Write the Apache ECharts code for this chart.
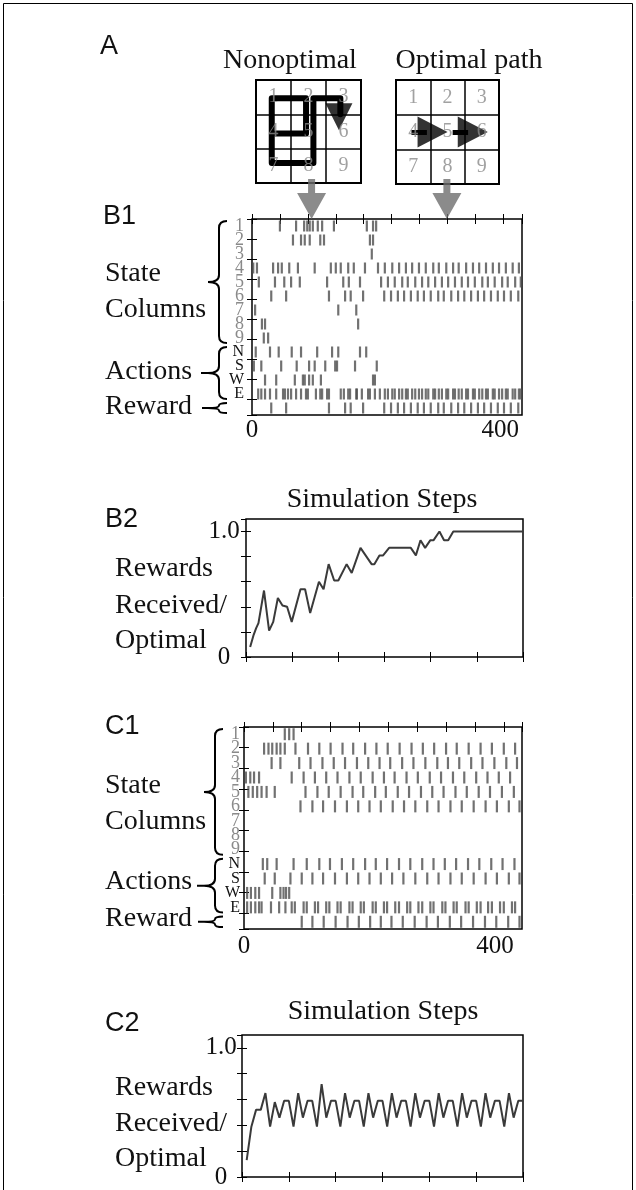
<!DOCTYPE html>
<html>
<head>
<meta charset="utf-8">
<script src="https://cdn.jsdelivr.net/npm/echarts@6/dist/echarts.min.js"></script>
<style>
  html, body { margin: 0; padding: 0; background: #fff; }
  #chart { width: 636px; height: 1190px; }
</style>
</head>
<body>
<div id="chart"></div>
<script>
// ---- data ----
const ROW_LABELS = ["1", "2", "3", "4", "5", "6", "7", "8", "9", "N", "S", "W", "E", ""];
const GRID_NUMBERS = ["1", "2", "3", "4", "5", "6", "7", "8", "9"];

// nonoptimal route through the 3x3 maze (cell units)
const NONOPT_PATH = [[0.57, 1.56], [1.43, 1.56], [1.43, 0.53], [0.45, 0.53], [0.45, 2.42], [1.64, 2.42], [1.64, 0.53], [2.41, 0.53], [2.41, 1.0]];
const NONOPT_HEAD = [[2.37, 1.07]];
// optimal route arrows 4 -> 5 -> 6
const OPT_SHAFTS = [[[0.45, 1.5], [0.9, 1.5]], [[1.65, 1.5], [2.1, 1.5]]];
const OPT_HEADS = [[1.065, 1.5], [2.235, 1.5]];

// grey arrows into B1 (simulation step)
const B1_ARROW_STEPS = [96, 314];

// B1 raster (simulation step of each spike)
const B1_S1 = [45, 71, 84, 89, 93, 98, 106, 113, 132, 185, 195, 200];
const B1_S2 = [66, 79, 85, 93, 110, 116, 190, 195];
const B1_S3 = [193];
const B1_S4 = [2, 8, 34, 42, 48, 60, 74, 101, 127, 135, 143, 155, 164, 182, 203, 214, 226, 237, 248, 258, 269, 280, 292, 301, 313, 324, 333, 345, 356, 366, 377, 388, 398, 409, 420, 430];
const B1_S5 = [11, 37, 52, 63, 77, 121, 147, 156, 174, 208, 219, 230, 242, 251, 263, 274, 284, 295, 306, 316, 327, 338, 348, 359, 371, 380, 391, 403, 412, 424, 433];
const B1_S6 = [31, 55, 124, 150, 159, 179, 213, 224, 235, 245, 256, 267, 277, 288, 300, 309, 321, 332, 342, 353, 364, 374, 385, 396, 406, 417, 429];
const B1_S7 = [5, 139, 168];
const B1_S8 = [16, 21, 171];
const B1_S9 = [19, 26];
const B1_N = [6, 29, 43, 64, 79, 105, 129, 139, 174, 184];
const B1_S = [3, 15, 47, 72, 92, 101, 118, 134, 137, 166, 201];
const B1_W = [21, 39, 69, 82, 85, 92, 98, 111, 195, 198];
const B1_E = [10, 15, 21, 29, 39, 50, 53, 58, 63, 71, 79, 87, 90, 103, 110, 113, 121, 124, 143, 148, 155, 158, 168, 169, 177, 187, 190, 198, 206,
  214, 219, 226, 230, 237, 242, 248, 251, 258, 263, 269, 274, 280, 284, 292, 295, 301, 306, 313, 316, 324, 327, 333, 338, 345, 348, 356, 359,
  366, 371, 377, 380, 388, 391, 398, 403, 409, 412, 420, 424, 430, 433];
const B1_REWARD = [31, 55, 124, 150, 159, 179, 213, 224, 235, 245, 256, 267, 277, 288, 300, 309, 321, 332, 342, 353, 364, 374, 385, 396, 406, 417, 429];

// B2 rewards received / optimal
const B2_STEPS = [0.9, 1.6, 2.2, 2.7, 3.9, 5.0, 5.9, 6.9, 7.9, 8.9, 9.9, 11.8, 12.8, 13.9, 15.8, 16.8, 17.9, 19.1, 20.0, 21.8, 22.9, 24.8, 27.2, 27.8, 28.9, 29.7, 31.0, 35.7, 36.8, 37.8, 38.8, 39.9, 40.6, 41.9, 42.9, 43.8, 44.9, 60];
const B2_VALUES = [0.08, 0.17, 0.23, 0.27, 0.53, 0.21, 0.28, 0.47, 0.41, 0.40, 0.28, 0.54, 0.54, 0.35, 0.60, 0.54, 0.74, 0.61, 0.61, 0.74, 0.67, 0.87, 0.74, 0.74, 0.81, 0.81, 0.87, 0.87, 0.81, 0.93, 0.87, 0.93, 0.93, 1.0, 0.93, 0.93, 1.0, 1.0];

// C1 raster
const C1_S1 = [65, 72, 79];
const C1_S2 = [32, 39, 45, 52, 58, 65, 82, 102, 120, 138, 157, 174, 193, 211, 229, 248, 267, 285, 303, 322, 339, 358, 377, 395, 414, 432];
const C1_S3 = [44, 58, 88, 106, 125, 143, 161, 180, 198, 216, 233, 252, 270, 289, 308, 325, 343, 362, 380, 399, 418, 435];
const C1_S4 = [3, 10, 16, 24, 76, 95, 113, 131, 149, 168, 186, 205, 223, 240, 259, 277, 296, 314, 333, 351, 370, 388, 406, 424];
const C1_S5 = [7, 14, 21, 28, 36, 49, 98, 117, 135, 154, 173, 190, 209, 226, 245, 263, 282, 300, 318, 337, 355, 374, 392, 411, 430];
const C1_S6 = [90, 109, 126, 145, 164, 182, 200, 218, 237, 255, 273, 292, 310, 329, 347, 366, 385, 403, 422, 439];
const C1_S7 = [];
const C1_S8 = [];
const C1_S9 = [];
const C1_N = [30, 37, 52, 79, 100, 120, 137, 156, 174, 193, 210, 228, 247, 265, 284, 302, 320, 338, 357, 375, 394, 412, 431];
const C1_S = [33, 49, 74, 92, 109, 126, 145, 164, 182, 200, 218, 236, 254, 273, 292, 310, 329, 347, 366, 385, 403, 422, 439];
const C1_W = [5, 11, 18, 24, 45, 58, 63, 67, 72];
const C1_E = [5, 11, 18, 24, 28, 43, 56, 66, 76, 81, 95, 100, 113, 118, 131, 136, 149, 154, 168, 173, 186, 191, 205, 210,
  223, 228, 241, 247, 260, 265, 278, 284, 297, 302, 316, 321, 334, 339, 353, 358, 371, 377, 389, 395, 408, 414, 427, 432];
const C1_REWARD = [92, 109, 127, 146, 165, 183, 201, 218, 235, 253, 272, 291, 309, 328, 346, 365, 384, 402, 421, 439];

// C2 rewards received / optimal (one value per step, from step 1)
const C2_VALUES = [0.13, 0.39, 0.52, 0.52, 0.65, 0.39, 0.58, 0.46, 0.59, 0.59,
  0.39, 0.65, 0.46, 0.59, 0.59, 0.39, 0.72, 0.46, 0.59, 0.59,
  0.39, 0.65, 0.46, 0.59, 0.59, 0.39, 0.65, 0.46, 0.59, 0.59,
  0.39, 0.65, 0.46, 0.59, 0.59, 0.39, 0.65, 0.46, 0.59, 0.59,
  0.39, 0.65, 0.46, 0.59, 0.59, 0.39, 0.65, 0.46, 0.59, 0.59,
  0.39, 0.65, 0.46, 0.59, 0.59, 0.39, 0.65, 0.46, 0.59, 0.59];

// ---- helpers ----
const SERIF = '"Liberation Serif", "Times New Roman", serif';
const SANS = '"Liberation Sans", Arial, sans-serif';
const INK = "#111";
const SPIKE = "#4d4d4d";

const B1_ROWS = [B1_S1, B1_S2, B1_S3, B1_S4, B1_S5, B1_S6, B1_S7, B1_S8, B1_S9, B1_N, B1_S, B1_W, B1_E, B1_REWARD];
const C1_ROWS = [C1_S1, C1_S2, C1_S3, C1_S4, C1_S5, C1_S6, C1_S7, C1_S8, C1_S9, C1_N, C1_S, C1_W, C1_E, C1_REWARD];

function rasterData(rows) {
  const out = [];
  rows.forEach((times, r) => times.forEach((t) => out.push([t, r])));
  return out;
}

// braces: [x, firstRow, lastRow]
const BRACES = [[0, 0, 8], [0, 9, 12], [0, 13, 13]];
const BRACE_TAILS = [0, 7, 6];

function braceItem(tipOffset) {
  return function (params, api) {
    const s = api.value(1), e = api.value(2);
    const band = api.size([0, 1])[1];
    const p0 = api.coord([0, s]);
    const p1 = api.coord([0, e]);
    const yTop = p0[1] - band / 2 + 2;
    const yBot = p1[1] + band / 2 - 2;
    const yMid = (yTop + yBot) / 2;
    const xTip = p0[0] - tipOffset;
    const xV = xTip + 11;
    const xArm = xTip + 19;
    const r = Math.min(7, (yBot - yTop) / 4);
    let d = "M" + xArm + "," + yTop +
      " Q" + xV + "," + yTop + " " + xV + "," + (yTop + r) +
      " L" + xV + "," + (yMid - r) +
      " Q" + xV + "," + yMid + " " + xTip + "," + yMid +
      " Q" + xV + "," + yMid + " " + xV + "," + (yMid + r) +
      " L" + xV + "," + (yBot - r) +
      " Q" + xV + "," + yBot + " " + xArm + "," + yBot;
    const tail = BRACE_TAILS[params.dataIndex];
    if (tail) d += " M" + xTip + "," + yMid + " L" + (xTip - tail) + "," + yMid;
    return {
      type: "path",
      shape: { pathData: d },
      style: { stroke: "#000", fill: "none", lineWidth: 2 }
    };
  };
}

function cellAxis(grid, inverse) {
  return {
    gridIndex: grid, type: "value", min: 0, max: 3, interval: 1, inverse: inverse,
    axisLine: { show: false }, axisTick: { show: false }, axisLabel: { show: false },
    splitLine: { show: true, lineStyle: { color: "#000", width: 1.5 } }
  };
}

function tickAxis(grid, position, max, interval, inverse) {
  return {
    gridIndex: grid, type: "value", position: position, min: 0, max: max, interval: interval, inverse: !!inverse,
    axisLine: { show: false },
    axisTick: { show: true, inside: true, length: 5, lineStyle: { color: "#000", width: 1 } },
    axisLabel: { show: false }, splitLine: { show: false }
  };
}

function labelAxis(grid, max, margin) {
  return {
    gridIndex: grid, type: "value", position: "bottom", min: 0, max: max, interval: 400,
    axisLine: { show: false }, axisTick: { show: false }, splitLine: { show: false },
    axisLabel: { show: true, margin: margin, color: INK, fontSize: 25, fontFamily: SERIF, showMaxLabel: false,
      formatter: (v) => (v === 0 || v === 400 ? String(v) : "") }
  };
}

function rowAxis(grid, margin) {
  return {
    gridIndex: grid, type: "category", data: ROW_LABELS, inverse: true,
    axisLine: { show: false }, axisTick: { show: false }, splitLine: { show: false },
    axisLabel: {
      show: true, interval: 0, margin: margin,
      formatter: (v) => (v === "" ? "" : (/[0-9]/.test(v) ? "{d|" + v + "}" : "{l|" + v + "}")),
      rich: {
        d: { color: "#8a8a8a", fontSize: 18, fontFamily: SERIF },
        l: { color: INK, fontSize: 16, fontFamily: SERIF }
      }
    }
  };
}

function rewardAxis(grid, position, margin, labels) {
  return {
    gridIndex: grid, type: "value", position: position, min: 0, max: 1.1, interval: 0.2,
    axisLine: { show: false }, splitLine: { show: false },
    axisTick: { show: true, inside: true, length: 5, lineStyle: { color: "#000", width: 1 } },
    axisLabel: {
      show: labels, margin: margin, align: "center", color: INK, fontSize: 25, fontFamily: SERIF, showMaxLabel: false,
      formatter: (v) => (v === 0 ? "0" : (Math.abs(v - 1) < 1e-6 ? "1.0" : ""))
    }
  };
}

function text(str, x, y, size, family, align) {
  return {
    type: "text", x: x, y: y, silent: true,
    style: {
      text: str, fill: INK, font: size + "px " + family,
      align: align || "left", textAlign: align || "left",
      verticalAlign: "middle", textVerticalAlign: "middle"
    }
  };
}

const boxGrid = { show: true, borderColor: "#000", borderWidth: 1.5, outerBoundsMode: "none", containLabel: false };

const numberData = GRID_NUMBERS.map((n, i) => ({ name: n, value: [(i % 3) + 0.5, Math.floor(i / 3) + 0.5] }));
const numberLabel = { show: true, position: "inside", formatter: (p) => p.name, color: "#8a8a8a", fontSize: 20, fontFamily: SERIF };

const chart = echarts.init(document.getElementById("chart"), null, { renderer: "canvas" });

chart.setOption({
  animation: false,
  backgroundColor: "#fff",
  grid: [
    Object.assign({ left: 256, top: 80, width: 105, height: 103 }, boxGrid, { borderWidth: 2 }),
    Object.assign({ left: 396, top: 80, width: 103, height: 104 }, boxGrid, { borderWidth: 2 }),
    Object.assign({ left: 252, top: 219, width: 270, height: 196 }, boxGrid),
    Object.assign({ left: 246, top: 519, width: 277, height: 138 }, boxGrid),
    Object.assign({ left: 244, top: 727, width: 278, height: 202 }, boxGrid),
    Object.assign({ left: 242, top: 1035, width: 281, height: 142 }, boxGrid)
  ],
  xAxis: [
    cellAxis(0, false),            // 0
    cellAxis(1, false),            // 1
    tickAxis(2, "bottom", 435, 45),// 2
    tickAxis(2, "top", 435, 45),   // 3
    labelAxis(2, 435, 3),          // 4
    tickAxis(3, "bottom", 60, 10), // 5
    tickAxis(3, "top", 60, 10),    // 6
    tickAxis(4, "bottom", 443, 46),// 7
    tickAxis(4, "top", 443, 46),   // 8
    labelAxis(4, 443, 5),          // 9
    tickAxis(5, "bottom", 60, 10), // 10
    tickAxis(5, "top", 60, 10)     // 11
  ],
  yAxis: [
    cellAxis(0, true),                      // 0
    cellAxis(1, true),                      // 1
    rowAxis(2, 8),                          // 2
    tickAxis(2, "left", 9.8, 1, true),      // 3
    tickAxis(2, "right", 9.8, 1, true),     // 4
    rewardAxis(3, "left", 22, true),        // 5
    rewardAxis(3, "right", 8, false),       // 6
    rowAxis(4, 4),                          // 7
    tickAxis(4, "left", 9.76, 1, true),     // 8
    tickAxis(4, "right", 9.76, 1, true),    // 9
    rewardAxis(5, "left", 21, true),        // 10
    rewardAxis(5, "right", 8, false)        // 11
  ],
  series: [
    { type: "scatter", xAxisIndex: 0, yAxisIndex: 0, symbolSize: 1, itemStyle: { color: "rgba(0,0,0,0)" },
      label: numberLabel, data: numberData, silent: true },
    { type: "lines", coordinateSystem: "cartesian2d", xAxisIndex: 0, yAxisIndex: 0, polyline: true, silent: true,
      lineStyle: { color: "#000", width: 6, opacity: 1, join: "round", cap: "round" },
      data: [{ coords: NONOPT_PATH }] },
    { type: "scatter", xAxisIndex: 0, yAxisIndex: 0, symbol: "triangle", symbolRotate: 180, symbolSize: [27, 27],
      itemStyle: { color: "#000" }, data: NONOPT_HEAD, silent: true, clip: false },
    { type: "scatter", xAxisIndex: 1, yAxisIndex: 1, symbolSize: 1, itemStyle: { color: "rgba(0,0,0,0)" },
      label: numberLabel, data: numberData, silent: true },
    { type: "lines", coordinateSystem: "cartesian2d", xAxisIndex: 1, yAxisIndex: 1, silent: true,
      lineStyle: { color: "#000", width: 5, opacity: 1 },
      data: OPT_SHAFTS.map((c) => ({ coords: c })) },
    { type: "scatter", xAxisIndex: 1, yAxisIndex: 1, symbol: "triangle", symbolRotate: -90, symbolSize: [31, 30],
      itemStyle: { color: "#000" }, data: OPT_HEADS, silent: true, clip: false },

    // B1
    { type: "scatter", xAxisIndex: 2, yAxisIndex: 2, symbol: "rect", symbolSize: [2.2, 11],
      itemStyle: { color: SPIKE }, data: rasterData(B1_ROWS), silent: true },
    { type: "custom", xAxisIndex: 2, yAxisIndex: 2, renderItem: braceItem(44), data: BRACES, silent: true, clip: false },
    { type: "scatter", xAxisIndex: 2, yAxisIndex: 3, clip: false, silent: true,
      symbol: "path://M11,0L18,0L18,14L29,14L14.5,40L0,14L11,14Z", symbolSize: [29, 40], symbolOffset: [0, -20],
      itemStyle: { color: "#6e6e6e" }, data: B1_ARROW_STEPS.map((s) => [s, 0]) },

    // B2
    { type: "line", xAxisIndex: 5, yAxisIndex: 5, showSymbol: false, symbol: "none", silent: true,
      lineStyle: { color: "#3a3a3a", width: 2 },
      data: B2_STEPS.map((s, i) => [s, B2_VALUES[i]]) },

    // C1
    { type: "scatter", xAxisIndex: 7, yAxisIndex: 7, symbol: "rect", symbolSize: [2.2, 12],
      itemStyle: { color: SPIKE }, data: rasterData(C1_ROWS), silent: true },
    { type: "custom", xAxisIndex: 7, yAxisIndex: 7, renderItem: braceItem(40), data: BRACES, silent: true, clip: false },

    // C2
    { type: "line", xAxisIndex: 10, yAxisIndex: 10, showSymbol: false, symbol: "none", silent: true,
      lineStyle: { color: "#3a3a3a", width: 2 },
      data: C2_VALUES.map((v, i) => [i + 1, v]) }
  ],
  graphic: [
    { type: "rect", silent: true, shape: { x: 3.5, y: 3.5, width: 629, height: 1200 },
      style: { fill: "none", stroke: "#000", lineWidth: 1 } },
    text("A", 100, 47, 27, SANS),
    text("Nonoptimal", 290, 61, 28, SERIF, "center"),
    text("Optimal path", 469, 61, 28, SERIF, "center"),
    text("B1", 103, 217, 27, SANS),
    text("State", 105, 274, 28, SERIF),
    text("Columns", 105, 310, 28, SERIF),
    text("Actions", 105, 372, 28, SERIF),
    text("Reward", 105, 407, 28, SERIF),
    text("B2", 105, 520, 27, SANS),
    text("Simulation Steps", 382, 500, 28, SERIF, "center"),
    text("Rewards", 115, 569, 28, SERIF),
    text("Received/", 115, 606, 28, SERIF),
    text("Optimal", 115, 641, 28, SERIF),
    text("C1", 105, 727, 27, SANS),
    text("State", 105, 786, 28, SERIF),
    text("Columns", 105, 822, 28, SERIF),
    text("Actions", 105, 882, 28, SERIF),
    text("Reward", 105, 919, 28, SERIF),
    text("C2", 105, 1024, 27, SANS),
    text("Simulation Steps", 383, 1012, 28, SERIF, "center"),
    text("Rewards", 115, 1088, 28, SERIF),
    text("Received/", 115, 1124, 28, SERIF),
    text("Optimal", 115, 1159, 28, SERIF)
  ]
});
</script>
</body>
</html>
